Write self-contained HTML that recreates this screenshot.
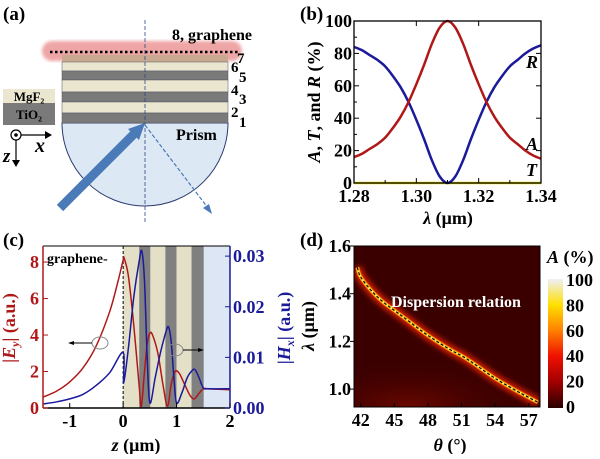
<!DOCTYPE html>
<html><head><meta charset="utf-8"><style>
body{margin:0;background:#fff;font-family:"Liberation Serif","Times New Roman",Times,serif;}
svg, svg text, svg tspan{font-family:"Liberation Serif","Times New Roman",Times,serif !important;font-weight:bold;}
</style></head><body>
<svg id="fig" width="600" height="454" viewBox="0 0 600 454" xmlns="http://www.w3.org/2000/svg">
<defs>
<filter id="blur3" x="-20%" y="-50%" width="140%" height="200%"><feGaussianBlur stdDeviation="3"/></filter>
<filter id="blur2"><feGaussianBlur stdDeviation="1.6"/></filter>
<linearGradient id="cbar" x1="0" y1="1" x2="0" y2="0">
<stop offset="0" stop-color="#2a0000"/><stop offset="0.2" stop-color="#a00000"/><stop offset="0.4" stop-color="#f01000"/><stop offset="0.6" stop-color="#ff8000"/><stop offset="0.8" stop-color="#ffe000"/><stop offset="1" stop-color="#eef0f8"/></linearGradient>
<radialGradient id="dglow" cx="0.3" cy="1" r="0.7"><stop offset="0" stop-color="#7a0a00"/><stop offset="1" stop-color="#3a0000" stop-opacity="0"/></radialGradient>
<clipPath id="clipD"><rect x="354" y="246" width="186" height="161"/></clipPath>
<clipPath id="clipC"><rect x="43" y="246" width="187" height="162"/></clipPath>
</defs>

<g>
<text x="3" y="20" font-size="19">(a)</text>
<path d="M62,123 A83,83 0 0 0 228,123 Z" fill="#dde8f5" stroke="#2b3a70" stroke-width="1"/>
<rect x="42" y="41" width="200" height="20" rx="10" fill="#e88080" opacity="0.7" filter="url(#blur2)"/>
<rect x="62" y="55" width="166" height="7" fill="#c8a890"/>
<rect x="62" y="62" width="166" height="9" fill="#ebe6cf" stroke="#556" stroke-width="0.5"/>
<rect x="62" y="71" width="166" height="9" fill="#7a7a7a" stroke="#556" stroke-width="0.5"/>
<rect x="62" y="80" width="166" height="12" fill="#ebe6cf" stroke="#556" stroke-width="0.5"/>
<rect x="62" y="92" width="166" height="10" fill="#7a7a7a" stroke="#556" stroke-width="0.5"/>
<rect x="62" y="102" width="166" height="11" fill="#ebe6cf" stroke="#556" stroke-width="0.5"/>
<rect x="62" y="113" width="166" height="10" fill="#7a7a7a" stroke="#556" stroke-width="0.5"/>
<line x1="50" y1="52" x2="240" y2="52" stroke="#000" stroke-width="2.5" stroke-dasharray="2.5,2.5"/>
<line x1="145" y1="20" x2="145" y2="222" stroke="#2b4a80" stroke-width="0.8" stroke-dasharray="4,2"/>
<line x1="60" y1="208" x2="138" y2="130" stroke="#4a7ab8" stroke-width="9"/>
<polygon points="145,123 128,129 139,140" fill="#4a7ab8"/>
<line x1="145" y1="125" x2="208" y2="208" stroke="#4a7ab8" stroke-width="1.2" stroke-dasharray="4,2"/>
<polygon points="212,214 203,208 209,204" fill="#4a7ab8"/>
<text x="172" y="40" font-size="16">8, graphene</text>
<g font-size="15">
<text x="237" y="63">7</text><text x="231" y="72">6</text><text x="239" y="82">5</text><text x="231" y="95">4</text><text x="239" y="104">3</text><text x="231" y="117">2</text><text x="239" y="127">1</text></g>
<text x="176" y="140" font-size="16">Prism</text>
<rect x="3" y="89" width="52" height="14" fill="#ebe6cf"/>
<rect x="3" y="103" width="52" height="22" fill="#7a7a7a"/>
<text x="29" y="101" font-size="13" text-anchor="middle">MgF₂</text>
<text x="29" y="119" font-size="13" text-anchor="middle">TiO₂</text>
<g stroke="#000" stroke-width="1.2" fill="none">
<circle cx="16" cy="135" r="5"/><circle cx="16" cy="135" r="1.2" fill="#000"/>
<line x1="21" y1="135" x2="48" y2="135"/><line x1="16" y1="140" x2="16" y2="162"/></g>
<polygon points="52,135 45,131 45,139" fill="#000"/><polygon points="16,167 12,160 20,160" fill="#000"/>
<text x="35" y="152" font-size="20" font-style="italic">x</text>
<text x="3" y="162" font-size="19" font-style="italic">z</text>
</g>

<g id="pb">
<text x="300" y="20" font-size="19">(b)</text>
</g>
<g id="pc">
<text x="3" y="246" font-size="19">(c)</text>
</g>
<g id="pd">
<text x="300" y="246" font-size="19">(d)</text>
</g>
</svg>
<script>
// ---- Panel b data ----
const bWl = [1.28,1.2825,1.285,1.2875,1.29,1.2925,1.295,1.2975,1.30,1.3025,1.305,1.3075,1.31,1.3125,1.315,1.3175,1.32,1.3225,1.325,1.3275,1.33,1.3325,1.335,1.3375,1.34];
const bA = [16,18,21,24,28,34,41,50,61,73,86,96,100,96,86,73,61,50,41,34,28,24,20,17,15];
const bR = [84,82,79,76,72,66,59,50,39,27,14,4,0,4,14,27,39,50,59,66,72,76,80,83,85];
const bT = [0,0,0,0,0,0,0,0,0,0,0,0,0,0,0,0,0,0,0,0,0,0,0,0,0];
const bXTicks = [1.28,1.30,1.32,1.34];
const bXTickLabels = ["1.28","1.30","1.32","1.34"];
const bYTicks = [0,20,40,60,80,100];

// ---- Panel c data ----
const cZE = [-1.5,-1.25,-1,-0.75,-0.5,-0.25,-0.1,0,0.02,0.1,0.2,0.3,0.34,0.4,0.45,0.5,0.55,0.65,0.75,0.83,0.9,0.97,1.05,1.15,1.25,1.33,1.42,1.5,1.6,2.0];
const cE = [0.6,0.92,1.43,2.2,3.43,5.3,6.9,8.1,8.2,7.2,4.5,1.2,0.1,2.0,3.5,4.1,4.0,3.0,1.2,0.1,1.3,2.0,1.9,1.3,0.7,0.5,0.8,1.05,1.05,1.0];
const cZH = [-1.5,-1.25,-1,-0.75,-0.5,-0.25,0,0.01,0.1,0.2,0.3,0.35,0.4,0.45,0.5,0.6,0.7,0.8,0.85,0.9,0.95,1.0,1.1,1.2,1.3,1.35,1.42,1.5,1.6,2.0];
const cH = [0.0008,0.0012,0.0018,0.0027,0.0045,0.007,0.011,0.005,0.012,0.022,0.029,0.031,0.025,0.010,0.001,0.006,0.011,0.015,0.016,0.013,0.006,0.001,0.003,0.006,0.0075,0.0075,0.006,0.004,0.0038,0.0038];
const cLayerStart = [0,0.3,0.51,0.79,1.0,1.28,1.51];
const cLayerEnd = [0.3,0.51,0.79,1.0,1.28,1.51,2.0];
const cLayerType = ["MgF2","TiO2","MgF2","TiO2","MgF2","TiO2","prism"];
const cXTicks = [-1,0,1,2];
const cYTicks = [0,2,4,6,8];
const cY2Ticks = [0,0.01,0.02,0.03];
const cY2Labels = ["0.00","0.01","0.02","0.03"];

// ---- Panel d data ----
const dTheta = [41.7,42,43,44,45,46,48,50,51,52,54,56,57,57.8];
const dLambda = [1.51,1.47,1.41,1.365,1.33,1.295,1.225,1.165,1.14,1.11,1.045,0.99,0.965,0.945];
const dXTicks = [42,45,48,51,54,57];
const dYTicks = [1.0,1.2,1.4,1.6];
const dYLabels = ["1.0","1.2","1.4","1.6"];
const dCbTicks = [0,20,40,60,80,100];

const NS = "http://www.w3.org/2000/svg";
const FS = 18;
function mk(parent, tag, attrs, text){
  const e = document.createElementNS(NS, tag);
  for (const k in attrs) e.setAttribute(k, attrs[k]);
  if (text !== undefined) e.textContent = text;
  parent.appendChild(e);
  return e;
}
function lin(d0,d1,r0,r1){ return v => r0 + (v-d0)/(d1-d0)*(r1-r0); }
function smooth(P){
  let d = 'M'+P[0][0]+','+P[0][1];
  for(let i=0;i<P.length-1;i++){
    const p0=P[Math.max(0,i-1)],p1=P[i],p2=P[i+1],p3=P[Math.min(P.length-1,i+2)];
    const c1=[p1[0]+(p2[0]-p0[0])/6,p1[1]+(p2[1]-p0[1])/6];
    const c2=[p2[0]-(p3[0]-p1[0])/6,p2[1]-(p3[1]-p1[1])/6];
    d+=' C'+c1[0]+','+c1[1]+' '+c2[0]+','+c2[1]+' '+p2[0]+','+p2[1];
  }
  return d;
}

// ===== Panel b =====
(function(){
  const g = document.getElementById('pb');
  const L=354,R=541,T=21,B=183;
  const x = lin(1.28,1.34,L,R), y = lin(0,100,B,T);
  const mkLine = (vals,color,name)=>{
    const p = mk(g,'path',{d:smooth(bWl.map((w,i)=>[x(w),y(vals[i])])),fill:'none',stroke:color,'stroke-width':2.5});
    
    
  };
  mkLine(bT,'#e8e000','t-curve');
  mkLine(bR,'#1a1a9a','r-curve');
  mkLine(bA,'#b01818','a-curve');
  const box = mk(g,'rect',{x:L,y:T,width:R-L,height:B-T,fill:'none',stroke:'#000','stroke-width':1.3});
  
  
  bXTicks.forEach((t,i)=>{
    mk(g,'line',{x1:x(t),x2:x(t),y1:B,y2:B-5,stroke:'#000'});
    mk(g,'line',{x1:x(t),x2:x(t),y1:T,y2:T+5,stroke:'#000'});
    const tl = mk(g,'text',{x:x(t),y:B+19,'font-size':FS,'text-anchor':'middle'},bXTickLabels[i]);
    
    
    if(i<bXTicks.length-1){const m=x(t+0.01);mk(g,'line',{x1:m,x2:m,y1:B,y2:B-3,stroke:'#000'});}
  });
  bYTicks.forEach((t,i)=>{
    mk(g,'line',{x1:L,x2:L+5,y1:y(t),y2:y(t),stroke:'#000'});
    mk(g,'line',{x1:R,x2:R-5,y1:y(t),y2:y(t),stroke:'#000'});
    const tl = mk(g,'text',{x:L-2,y:y(t)+6,'font-size':FS,'text-anchor':'end'},String(t));
    
    
    if(i<bYTicks.length-1){const m=y(t+10);mk(g,'line',{x1:L,x2:L+3,y1:m,y2:m,stroke:'#000'});}
  });
  const xt = mk(g,'text',{x:448,y:224,'font-size':FS,'text-anchor':'middle'});
  xt.innerHTML = '<tspan font-style="italic">λ</tspan> (μm)';
  
  
  const yt = mk(g,'text',{transform:'translate(320,102) rotate(-90)','font-size':FS,'text-anchor':'middle'});
  yt.innerHTML = '<tspan font-style="italic">A</tspan>, <tspan font-style="italic">T</tspan>, and <tspan font-style="italic">R</tspan> (%)';
  
  
  [['R',68,'r-label'],['A',150,'a-label'],['T',176,'t-label']].forEach(a=>{
    const e = mk(g,'text',{x:526,y:a[1],'font-size':FS,'font-style':'italic'},a[0]);
    
    
  });
})();

// ===== Panel c =====
(function(){
  const g = document.getElementById('pc');
  const L=43,R=230,T=246,B=408;
  const x = lin(-1.5,2,L,R), y = lin(0,8.88,B,T), y2 = lin(0,0.032,B,T);
  const fills = {MgF2:'#e4e0c8',TiO2:'#808080',prism:'#dce6f5'};
  cLayerStart.forEach((s,i)=>{
    const r = mk(g,'rect',{x:x(s),y:T,width:x(cLayerEnd[i])-x(s),height:B-T,fill:fills[cLayerType[i]]});
    
    
  });
  mk(g,'line',{x1:x(0),x2:x(0),y1:T,y2:B,stroke:'#000','stroke-dasharray':'3,2'});
  const ep = mk(g,'path',{d:smooth(cZE.map((z,i)=>[x(z),y(cE[i])])),fill:'none',stroke:'#b01818','stroke-width':1.5,'clip-path':'url(#clipC)'});
  
  
  const hp = mk(g,'path',{d:smooth(cZH.map((z,i)=>[x(z),y2(cH[i])])),fill:'none',stroke:'#1a1a9a','stroke-width':1.5,'clip-path':'url(#clipC)'});
  
  
  mk(g,'line',{x1:L,x2:R,y1:B,y2:B,stroke:'#000','stroke-width':1.5});
  mk(g,'line',{x1:L,x2:R,y1:T,y2:T,stroke:'#000','stroke-width':1});
  mk(g,'line',{x1:L,x2:L,y1:T,y2:B,stroke:'#b01818','stroke-width':1.5});
  mk(g,'line',{x1:R,x2:R,y1:T,y2:B,stroke:'#1a1a9a','stroke-width':1.5});
  cXTicks.forEach(t=>{
    mk(g,'line',{x1:x(t),x2:x(t),y1:B,y2:B-5,stroke:'#000'});
    const tl = mk(g,'text',{x:x(t),y:B+19,'font-size':FS,'text-anchor':'middle'},String(t));
    
    
  });
  cYTicks.forEach(t=>{
    mk(g,'line',{x1:L,x2:L+5,y1:y(t),y2:y(t),stroke:'#b01818'});
    const tl = mk(g,'text',{x:L-4,y:y(t)+6,'font-size':FS,'text-anchor':'end',fill:'#b01818'},String(t));
    
    
  });
  cY2Ticks.forEach((t,i)=>{
    mk(g,'line',{x1:R,x2:R-5,y1:y2(t),y2:y2(t),stroke:'#1a1a9a'});
    const tl = mk(g,'text',{x:R+3,y:y2(t)+6,'font-size':FS,fill:'#1a1a9a'},cY2Labels[i]);
    
    
  });
  const xt = mk(g,'text',{x:136,y:451,'font-size':FS,'text-anchor':'middle'});
  xt.innerHTML = '<tspan font-style="italic">z</tspan> (μm)';
  
  
  const yt = mk(g,'text',{transform:'translate(15,328) rotate(-90)','font-size':FS,'text-anchor':'middle',fill:'#b01818'});
  yt.innerHTML = '|<tspan font-style="italic">E</tspan><tspan font-style="italic" font-size="12" dy="4">y</tspan><tspan dy="-4">| (a.u.)</tspan>';
  
  
  const yt2 = mk(g,'text',{transform:'translate(290,328) rotate(-90)','font-size':FS,'text-anchor':'middle',fill:'#1a1a9a'});
  yt2.innerHTML = '|<tspan font-style="italic">H</tspan><tspan font-style="italic" font-size="12" dy="4">x</tspan><tspan dy="-4">| (a.u.)</tspan>';
  
  
  const gl = mk(g,'text',{x:47,y:263,'font-size':14},'graphene-');
  
  
  mk(g,'ellipse',{cx:100,cy:343,rx:8,ry:6,fill:'none',stroke:'#888'});
  mk(g,'line',{x1:92,x2:72,y1:343,y2:343,stroke:'#000'});
  mk(g,'polygon',{points:'68,343 74,341 74,345',fill:'#000'});
  mk(g,'ellipse',{cx:175,cy:350,rx:8,ry:6,fill:'none',stroke:'#888'});
  mk(g,'line',{x1:183,x2:200,y1:350,y2:350,stroke:'#000'});
  mk(g,'polygon',{points:'204,350 198,348 198,352',fill:'#000'});
})();

// ===== Panel d =====
(function(){
  const g = document.getElementById('pd');
  const L=354,R=540,T=246,B=407;
  const x = lin(41.4,58.0,L,R), y = lin(0.925,1.6,B,T);
  const bg = mk(g,'rect',{x:L,y:T,width:R-L,height:B-T,fill:'#3a0000'});
  
  
  mk(g,'rect',{x:L,y:T+90,width:R-L,height:B-T-90,fill:'url(#dglow)',opacity:0.8,'clip-path':'url(#clipD)'});
  const pd = smooth(dTheta.map((t,i)=>[x(t),y(dLambda[i])]));
  const cg = mk(g,'g',{'clip-path':'url(#clipD)'});
  mk(cg,'path',{d:pd,fill:'none',stroke:'#e02000','stroke-width':9,filter:'url(#blur3)'});
  mk(cg,'path',{d:pd,fill:'none',stroke:'#ff9000','stroke-width':4});
  const band = mk(cg,'path',{d:pd,fill:'none',stroke:'#fff060','stroke-width':2});
  
  
  const dl = mk(cg,'path',{d:pd,fill:'none',stroke:'#000','stroke-width':1.2,'stroke-dasharray':'3,2'});
  
  
  const lab = mk(g,'text',{x:391,y:307,'font-size':16,fill:'#fff'},'Dispersion relation');
  
  
  mk(g,'rect',{x:L,y:T,width:R-L,height:B-T,fill:'none',stroke:'#000','stroke-width':1});
  dXTicks.forEach(t=>{
    mk(g,'line',{x1:x(t),x2:x(t),y1:B,y2:B-4,stroke:'#000'});
    const tl = mk(g,'text',{x:x(t),y:B+19,'font-size':FS,'text-anchor':'middle'},String(t));
    
    
  });
  dYTicks.forEach((t,i)=>{
    mk(g,'line',{x1:L,x2:L-4,y1:y(t),y2:y(t),stroke:'#000'});
    const tl = mk(g,'text',{x:L-3,y:y(t)+6,'font-size':FS,'text-anchor':'end'},dYLabels[i]);
    
    
  });
  const xt = mk(g,'text',{x:450,y:451,'font-size':FS,'text-anchor':'middle'});
  xt.innerHTML = '<tspan font-style="italic">θ</tspan> (°)';
  
  
  const yt = mk(g,'text',{transform:'translate(314,326) rotate(-90)','font-size':FS,'text-anchor':'middle'});
  yt.innerHTML = '<tspan font-style="italic">λ</tspan> (μm)';
  
  
  const cb = mk(g,'rect',{x:548,y:279,width:15,height:129,fill:'url(#cbar)'});
  
  
  const cy = lin(0,100,407,280);
  dCbTicks.forEach(t=>{
    const tl = mk(g,'text',{x:566,y:cy(t)+6,'font-size':FS},String(t));
    
    
  });
  const ct = mk(g,'text',{x:547,y:263,'font-size':FS});
  ct.innerHTML = '<tspan font-style="italic">A</tspan> (%)';
  
  
})();
</script>
</body></html>
